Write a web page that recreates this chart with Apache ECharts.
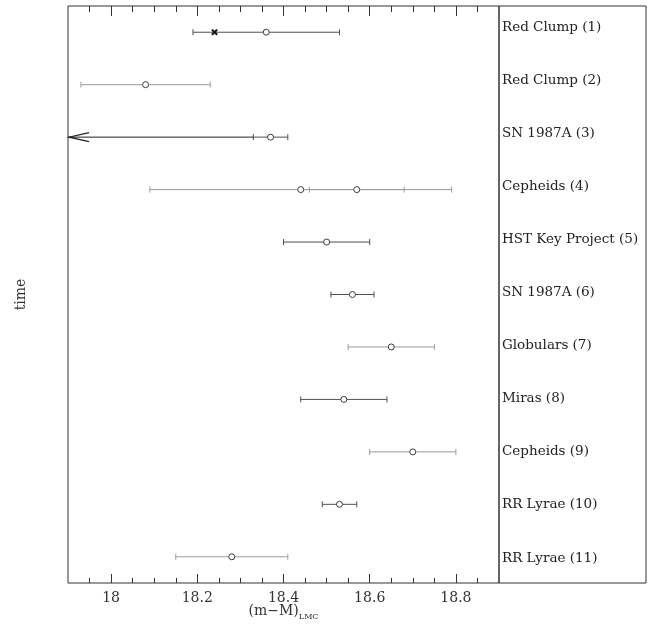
<!DOCTYPE html>
<html>
<head>
<meta charset="utf-8">
<script src="https://cdn.jsdelivr.net/npm/echarts@6/dist/echarts.min.js"></script>
<style>
  html, body { margin: 0; padding: 0; background: #fff; }
  #chart { width: 656px; height: 631px; }
</style>
</head>
<body>
<div id="chart"></div>
<script>
// methods, top to bottom
const methods = [
  "Red Clump (1)", "Red Clump (2)", "SN 1987A (3)", "Cepheids (4)",
  "HST Key Project (5)", "SN 1987A (6)", "Globulars (7)", "Miras (8)",
  "Cepheids (9)", "RR Lyrae (10)", "RR Lyrae (11)"
];
// one entry per measurement (row 4 has two)
const rowOf   = [0, 1, 2, 3, 3, 4, 5, 6, 7, 8, 9, 10];
const centers = [18.36, 18.08, 18.37, 18.44, 18.57, 18.50, 18.56, 18.65, 18.54, 18.70, 18.53, 18.28];
const lows    = [18.19, 17.93, 18.33, 18.09, 18.46, 18.40, 18.51, 18.55, 18.44, 18.60, 18.49, 18.15];
const highs   = [18.53, 18.23, 18.41, 18.79, 18.68, 18.60, 18.61, 18.75, 18.64, 18.80, 18.57, 18.41];
const shades  = ["dark", "gray", "dark", "gray", "gray", "dark", "dark", "gray", "dark", "gray", "dark", "gray"];
// extra marks
const crossRows = [0];
const crossValues = [18.24];
const limitRows = [2]; // upper-limit arrow runs off to the left

const majorTicks = [18, 18.2, 18.4, 18.6, 18.8];
const minorTicks = [17.95, 18.05, 18.1, 18.15, 18.25, 18.3, 18.35, 18.45, 18.5, 18.55,
                    18.65, 18.7, 18.75, 18.85];
const labelRows = [1, 2, 3, 4, 5, 6, 7, 8, 9, 10, 11];

const XMIN = 17.9, XMAX = 18.9;
const shadeColor = { dark: "#505050", gray: "#9c9c9c" };
const FONT = "DejaVu Serif";

const chart = echarts.init(document.getElementById("chart"));

const barData = centers.map((c, i) => [c, rowOf[i], lows[i], highs[i], i]);

const renderBar = (params, api) => {
  const i = api.value(4);
  const row = api.value(1);
  const col = shadeColor[shades[i]];
  const pc = api.coord([api.value(0), row]);
  const pl = api.coord([api.value(2), row]);
  const ph = api.coord([api.value(3), row]);
  const st = { stroke: col, lineWidth: 1 };
  const kids = [
    { type: "line", shape: { x1: pl[0], y1: pc[1], x2: ph[0], y2: pc[1] }, style: st },
    { type: "line", shape: { x1: pl[0], y1: pc[1] - 3, x2: pl[0], y2: pc[1] + 3 }, style: st },
    { type: "line", shape: { x1: ph[0], y1: pc[1] - 3, x2: ph[0], y2: pc[1] + 3 }, style: st },
    { type: "circle", shape: { cx: pc[0], cy: pc[1], r: 3 }, style: { fill: "#fff", stroke: "#3a3a3a", lineWidth: 1 } }
  ];
  if (limitRows.includes(row)) {
    const pm = api.coord([XMIN, row]);
    kids.push({ type: "line", shape: { x1: pm[0], y1: pc[1], x2: pl[0], y2: pc[1] }, style: { stroke: "#222", lineWidth: 1 } });
    kids.push({ type: "polyline", shape: { points: [[pm[0] + 21, pc[1] - 4.5], [pm[0] + 1, pc[1]], [pm[0] + 21, pc[1] + 4.5]] },
      style: { stroke: "#222", lineWidth: 1.2, fill: null } });
  }
  return { type: "group", children: kids };
};

const renderCross = (params, api) => {
  const p = api.coord([api.value(0), api.value(1)]);
  const s = 2.6;
  const st = { stroke: "#111", lineWidth: 2 };
  return { type: "group", children: [
    { type: "line", shape: { x1: p[0] - s, y1: p[1] - s, x2: p[0] + s, y2: p[1] + s }, style: st },
    { type: "line", shape: { x1: p[0] - s, y1: p[1] + s, x2: p[0] + s, y2: p[1] - s }, style: st }
  ] };
};

const xBase = {
  gridIndex: 0, type: "value", min: XMIN, max: XMAX,
  axisLine: { show: false }, splitLine: { show: false }, axisLabel: { show: false }
};

chart.setOption({
  animation: false,
  grid: [
    { left: 68, right: 157, top: 6, bottom: 48, show: true, borderColor: "#333", borderWidth: 1,
      outerBoundsMode: "none", containLabel: false },
    { left: 499, right: 10, top: 6, bottom: 48, show: true, borderColor: "#333", borderWidth: 1,
      outerBoundsMode: "none", containLabel: false }
  ],
  xAxis: [
    Object.assign({}, xBase, {
      position: "bottom",
      axisTick: { show: true, inside: true, length: 9, customValues: majorTicks, lineStyle: { color: "#333" } },
      axisLabel: { show: true, customValues: majorTicks, fontFamily: FONT, fontSize: 14, color: "#333", margin: 8 },
      name: "{a|(m\u2212M)}{b|LMC}",
      nameLocation: "middle",
      nameGap: 21,
      nameMoveOverlap: false,
      nameTextStyle: {
        rich: {
          a: { fontFamily: FONT, fontSize: 14, color: "#333", verticalAlign: "bottom" },
          b: { fontFamily: FONT, fontSize: 8, color: "#333", verticalAlign: "bottom", padding: [0, 0, -3, 0] }
        }
      }
    }),
    Object.assign({}, xBase, {
      position: "bottom",
      axisTick: { show: true, inside: true, length: 5, customValues: minorTicks, lineStyle: { color: "#333" } }
    }),
    Object.assign({}, xBase, {
      position: "top",
      axisTick: { show: true, inside: true, length: 10, customValues: majorTicks, lineStyle: { color: "#333" } }
    }),
    Object.assign({}, xBase, {
      position: "top",
      axisTick: { show: true, inside: true, length: 6, customValues: minorTicks, lineStyle: { color: "#333" } }
    }),
    { gridIndex: 1, type: "value", show: false }
  ],
  yAxis: [
    {
      gridIndex: 0, type: "category", data: methods, inverse: true,
      axisLine: { show: false }, axisTick: { show: false }, axisLabel: { show: false },
      splitLine: { show: false },
      name: "time", nameLocation: "middle", nameRotate: 90, nameGap: 40,
      nameTextStyle: { fontFamily: FONT, fontSize: 14, color: "#333" }
    },
    {
      gridIndex: 1, type: "value", inverse: true, min: 0.6045, max: 11.47,
      axisLine: { show: false }, axisTick: { show: false }, splitLine: { show: false },
      axisLabel: {
        inside: true, align: "left", margin: 3, customValues: labelRows,
        formatter: v => methods[Math.round(v) - 1],
        fontFamily: FONT, fontSize: 13.5, color: "#222"
      }
    }
  ],
  series: [
    {
      type: "custom", xAxisIndex: 0, yAxisIndex: 0,
      renderItem: renderBar, data: barData, encode: { x: [0, 2, 3], y: 1 }
    },
    {
      type: "custom", xAxisIndex: 0, yAxisIndex: 0,
      renderItem: renderCross, data: crossValues.map((v, i) => [v, crossRows[i]]), encode: { x: 0, y: 1 }
    }
  ]
});

window.addEventListener("resize", () => chart.resize());
</script>
</body>
</html>
